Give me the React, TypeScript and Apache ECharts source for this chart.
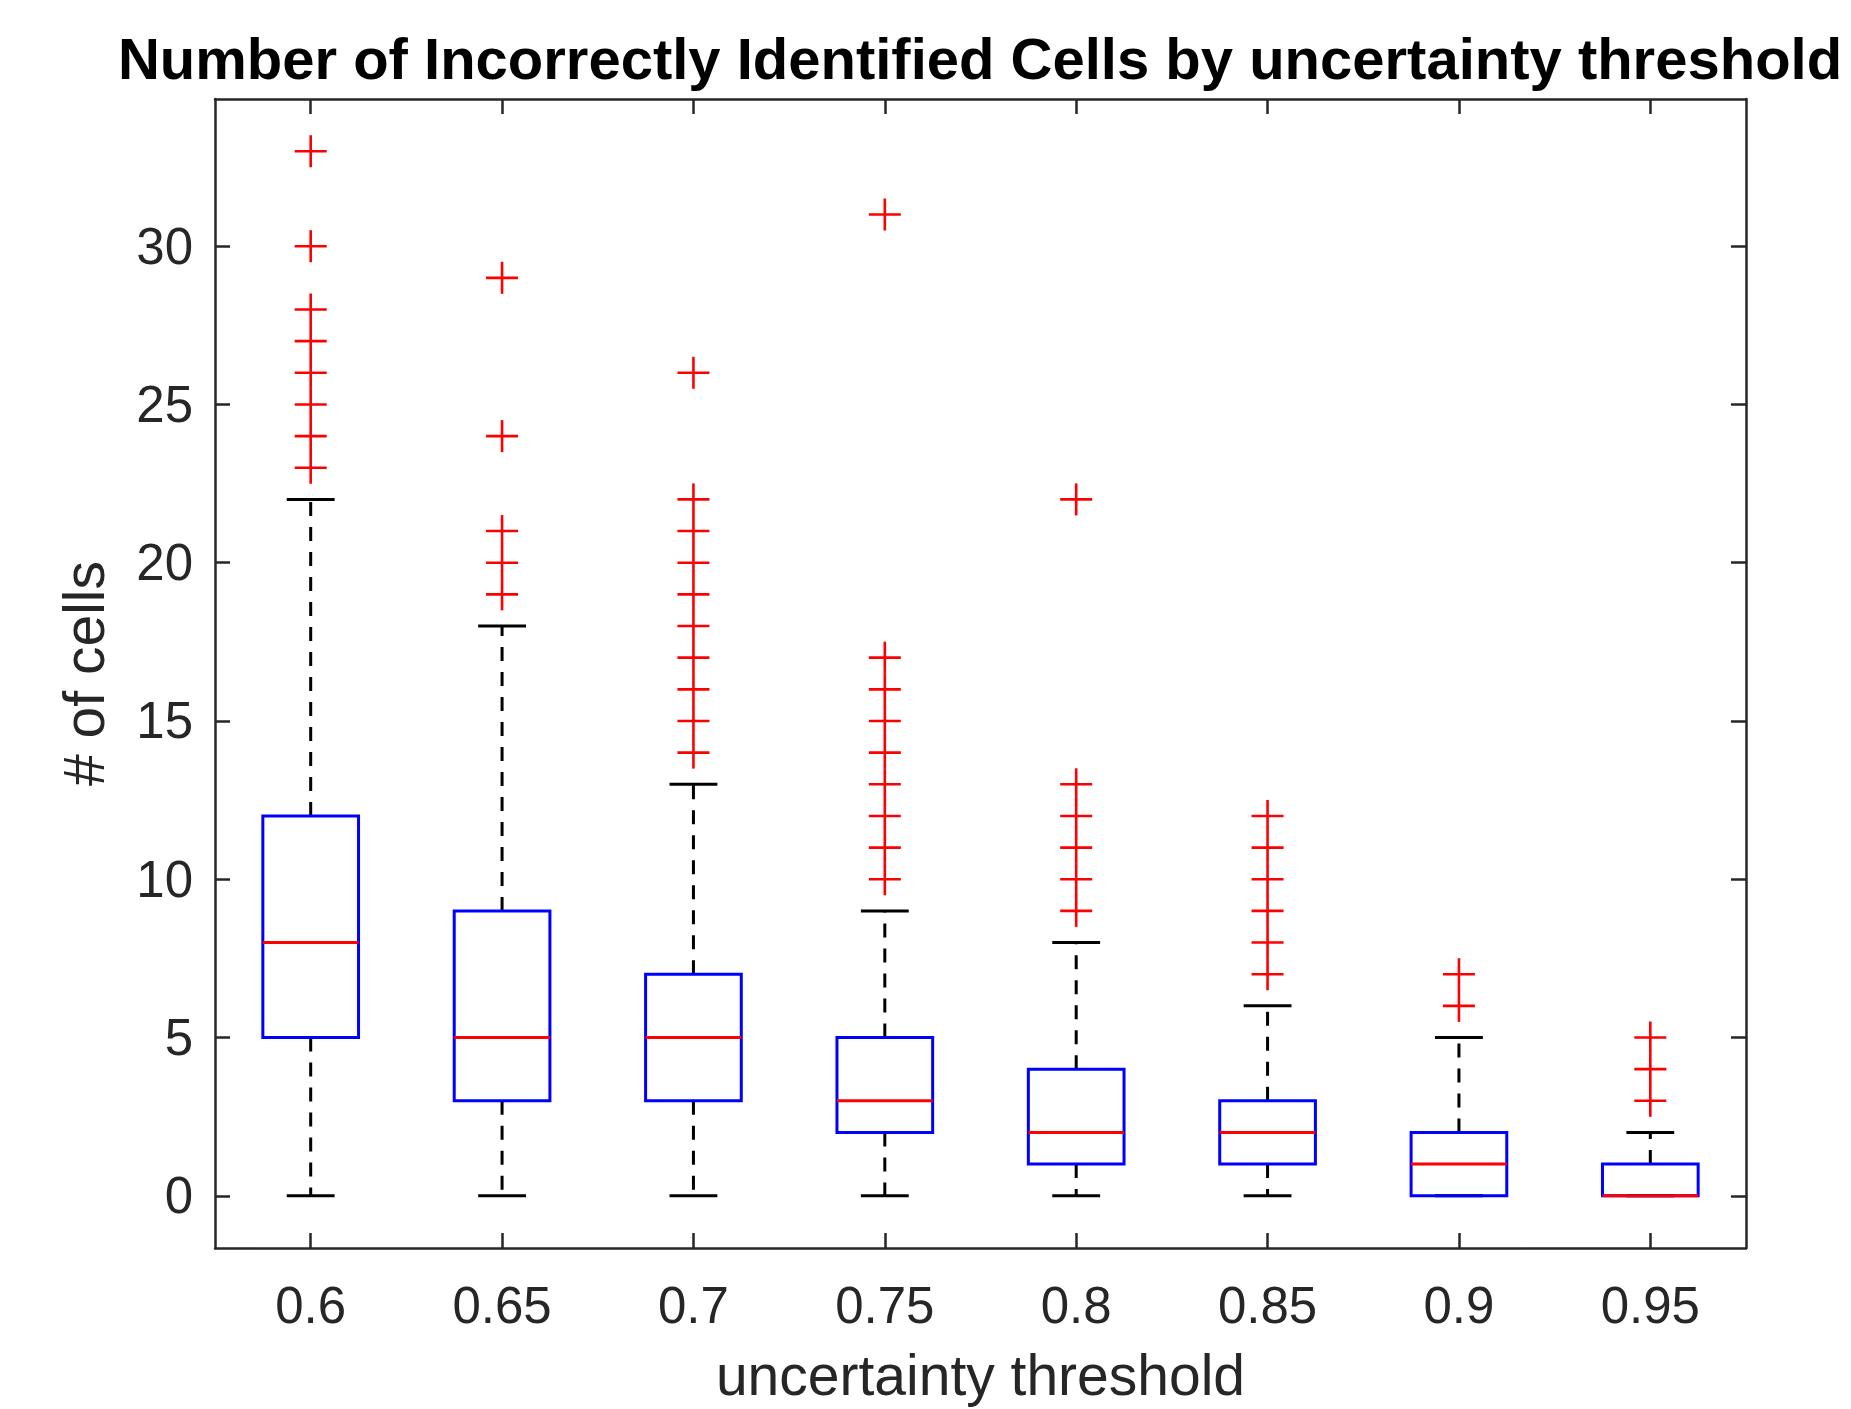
import React, { useEffect, useRef } from "react";
import * as echarts from "echarts";

const categories = ["0.6", "0.65", "0.7", "0.75", "0.8", "0.85", "0.9", "0.95"];
const whiskerLow = [0, 0, 0, 0, 0, 0, 0, 0];
const q1 = [5, 3, 3, 2, 1, 1, 0, 0];
const median = [8, 5, 5, 3, 2, 2, 1, 0];
const q3 = [12, 9, 7, 5, 4, 3, 2, 1];
const whiskerHigh = [22, 18, 13, 9, 8, 6, 5, 2];
const outliers06 = [23, 24, 25, 26, 27, 28, 30, 33];
const outliers065 = [19, 20, 21, 24, 29];
const outliers07 = [14, 15, 16, 17, 18, 19, 20, 21, 22, 26];
const outliers075 = [10, 11, 12, 13, 14, 15, 16, 17, 31];
const outliers08 = [9, 10, 11, 12, 13, 22];
const outliers085 = [7, 8, 9, 10, 11, 12];
const outliers09 = [6, 7];
const outliers095 = [3, 4, 5];
const outlierLists = [outliers06, outliers065, outliers07, outliers075, outliers08, outliers085, outliers09, outliers095];
const yTicks = [0, 5, 10, 15, 20, 25, 30];
const yMin = -1.65;
const yMax = 34.65;

const FONT = "'Liberation Sans', Arial, Helvetica, sans-serif";
const AXIS_COLOR = "#262626";
const BLUE = "#0000ff";
const RED = "#ff0000";

export default function App() {
  const ref = useRef<HTMLDivElement>(null);
  useEffect(() => {
    document.body.style.margin = "0";
    document.body.style.overflow = "hidden";
    const chart = echarts.init(ref.current!, null, { renderer: "svg" });

    const boxData = categories.map((_, i) => [i, whiskerLow[i], q1[i], median[i], q3[i], whiskerHigh[i]]);
    const outlierData: number[][] = [];
    outlierLists.forEach((list, i) => list.forEach((v) => outlierData.push([i, v])));

    const boxRender = (params: any, api: any) => {
      const x = api.value(0);
      const band = api.size([1, 0])[0];
      const half = band * 0.25;
      const capHalf = band * 0.125;
      const pLow = api.coord([x, api.value(1)]);
      const pQ1 = api.coord([x, api.value(2)]);
      const pMed = api.coord([x, api.value(3)]);
      const pQ3 = api.coord([x, api.value(4)]);
      const pHigh = api.coord([x, api.value(5)]);
      const cx = pMed[0];
      const children: any[] = [];
      const blackDash = { stroke: "#000", lineWidth: 3, lineDash: [14, 11], fill: "none" };
      const black = { stroke: "#000", lineWidth: 3, fill: "none" };
      if (pQ3[1] !== pHigh[1]) {
        children.push({ type: "line", shape: { x1: cx, y1: pQ3[1], x2: cx, y2: pHigh[1] }, style: blackDash });
      }
      if (pQ1[1] !== pLow[1]) {
        children.push({ type: "line", shape: { x1: cx, y1: pQ1[1], x2: cx, y2: pLow[1] }, style: blackDash });
      }
      children.push({ type: "line", shape: { x1: cx - capHalf, y1: pHigh[1], x2: cx + capHalf, y2: pHigh[1] }, style: black });
      children.push({ type: "line", shape: { x1: cx - capHalf, y1: pLow[1], x2: cx + capHalf, y2: pLow[1] }, style: black });
      children.push({
        type: "rect",
        shape: { x: cx - half, y: pQ3[1], width: half * 2, height: pQ1[1] - pQ3[1] },
        style: { stroke: BLUE, lineWidth: 3, fill: "none" },
      });
      children.push({
        type: "line",
        shape: { x1: cx - half, y1: pMed[1], x2: cx + half, y2: pMed[1] },
        style: { stroke: RED, lineWidth: 3 },
      });
      return { type: "group", children };
    };

    const plusRender = (params: any, api: any) => {
      const p = api.coord([api.value(0), api.value(1)]);
      const s = 16;
      return {
        type: "group",
        children: [
          { type: "line", shape: { x1: p[0] - s, y1: p[1], x2: p[0] + s, y2: p[1] }, style: { stroke: RED, lineWidth: 2.6 } },
          { type: "line", shape: { x1: p[0], y1: p[1] - s, x2: p[0], y2: p[1] + s }, style: { stroke: RED, lineWidth: 2.6 } },
        ],
      };
    };

    const axisLine = { show: true, onZero: false, lineStyle: { color: AXIS_COLOR, width: 2.5 } };
    const tickStyle = { color: AXIS_COLOR, width: 2.5 };

    chart.setOption({
      animation: false,
      backgroundColor: "#ffffff",
      title: {
        text: "Number of Incorrectly Identified Cells by uncertainty threshold",
        left: 980,
        top: 29,
        padding: 0,
        textAlign: "center",
        textStyle: { fontFamily: FONT, fontSize: 58, fontWeight: "bold", color: "#000" },
      },
      grid: { left: 215, right: 105, top: 99, bottom: 161, containLabel: false },
      xAxis: [
        {
          type: "category",
          data: categories,
          position: "bottom",
          boundaryGap: true,
          axisLine,
          axisTick: { show: true, inside: true, alignWithLabel: true, length: 15, lineStyle: tickStyle },
          axisLabel: { show: true, margin: 32, fontFamily: FONT, fontSize: 51, color: AXIS_COLOR },
          splitLine: { show: false },
          name: "uncertainty threshold",
          nameLocation: "middle",
          nameGap: 98,
          nameTextStyle: { fontFamily: FONT, fontSize: 57, color: AXIS_COLOR, verticalAlign: "top" },
        },
        {
          type: "category",
          data: categories,
          position: "top",
          boundaryGap: true,
          axisLine,
          axisTick: { show: true, inside: true, alignWithLabel: true, length: 15, lineStyle: tickStyle },
          axisLabel: { show: false },
          splitLine: { show: false },
        },
      ],
      yAxis: [
        {
          type: "value",
          min: yMin,
          max: yMax,
          position: "left",
          axisLine,
          axisTick: { show: true, inside: true, length: 15, customValues: yTicks, lineStyle: tickStyle },
          axisLabel: { show: true, margin: 22, customValues: yTicks, fontFamily: FONT, fontSize: 51, color: AXIS_COLOR },
          splitLine: { show: false },
          name: "# of cells",
          nameLocation: "middle",
          nameGap: 103,
          nameRotate: 90,
          nameTextStyle: { fontFamily: FONT, fontSize: 57, color: AXIS_COLOR },
        },
        {
          type: "value",
          min: yMin,
          max: yMax,
          position: "right",
          axisLine,
          axisTick: { show: true, inside: true, length: 15, customValues: yTicks, lineStyle: tickStyle },
          axisLabel: { show: false },
          splitLine: { show: false },
        },
      ],
      series: [
        {
          type: "custom",
          name: "box",
          xAxisIndex: 0,
          yAxisIndex: 0,
          renderItem: boxRender,
          encode: { x: 0, y: [1, 2, 3, 4, 5] },
          data: boxData,
          clip: false,
        },
        {
          type: "custom",
          name: "outliers",
          xAxisIndex: 0,
          yAxisIndex: 0,
          renderItem: plusRender,
          encode: { x: 0, y: 1 },
          data: outlierData,
          clip: false,
        },
      ],
    });
    return () => chart.dispose();
  }, []);
  return <div ref={ref} style={{ width: 1851, height: 1409 }} />;
}
